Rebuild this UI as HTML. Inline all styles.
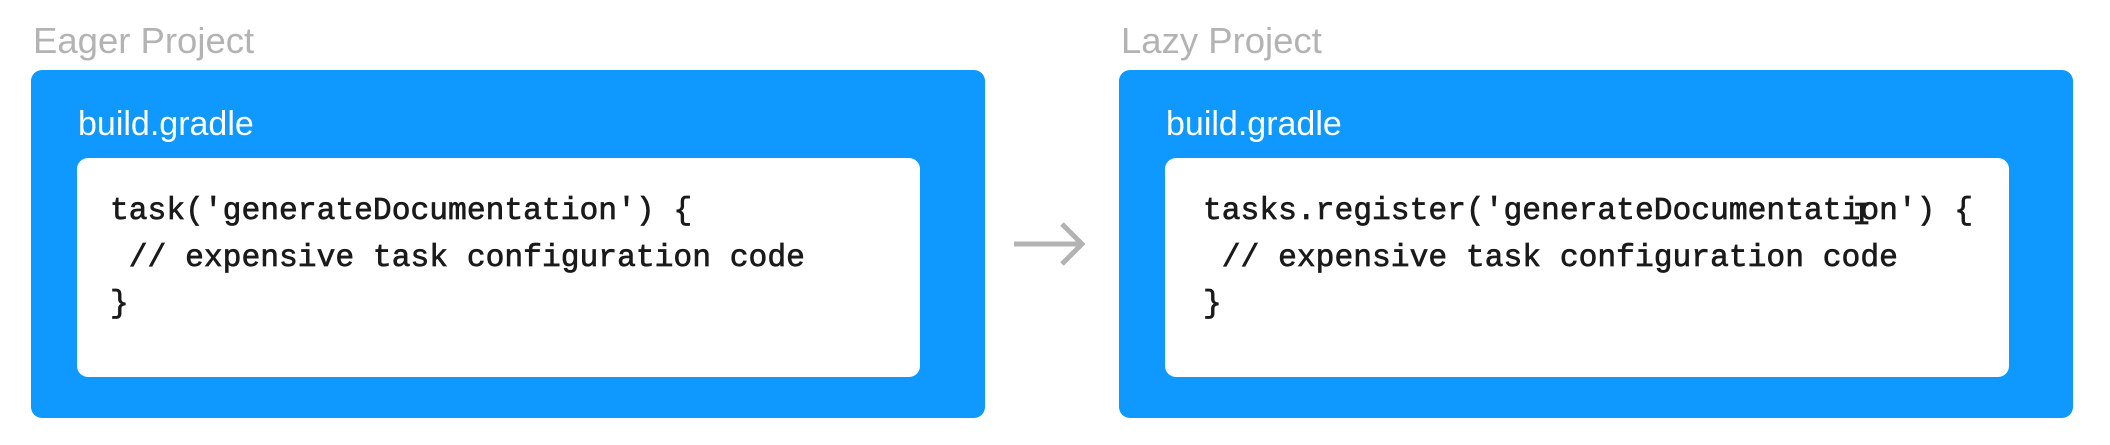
<!DOCTYPE html>
<html><head><meta charset="utf-8"><style>
body{margin:0;width:2110px;height:445px;background:#fff;position:relative;overflow:hidden;font-family:"Liberation Sans",sans-serif}
.lbl{position:absolute;top:20px;font-size:36.5px;color:#b3b3b3}
.box{position:absolute;top:70px;height:348px;background:#0f99ff;border-radius:11px}
.fn{position:absolute;top:105px;font-size:34px;color:#fff}
.code{position:absolute;top:158px;height:219px;background:#fff;border-radius:11px}
pre{position:absolute;margin:0;top:189px;font-family:"Liberation Mono",monospace;font-size:31.3px;line-height:46.5px;color:#1a1a1a;font-weight:normal;-webkit-text-stroke:0.7px #1a1a1a}
.o{position:relative}
.o i{position:absolute;left:-8px;top:0;font-style:normal;font-weight:normal}
</style></head><body>
<div class="lbl" style="left:33px">Eager Project</div>
<div class="box" style="left:31px;width:954px"></div>
<div class="fn" style="left:78px">build.gradle</div>
<div class="code" style="left:77px;width:843px"></div>
<pre style="left:110px">task('generateDocumentation') {
 // expensive task configuration code
}</pre>
<svg style="position:absolute;left:1010px;top:218px" width="80" height="52"><path d="M4 26H72M52 6L72 26L52 46" stroke="#b3b3b3" stroke-width="5" fill="none"/></svg>
<div class="lbl" style="left:1121px">Lazy Project</div>
<div class="box" style="left:1119px;width:954px"></div>
<div class="fn" style="left:1166px">build.gradle</div>
<div class="code" style="left:1165px;width:844px"></div>
<pre style="left:1203px">tasks.register('generateDocumentati<span class="o">o<i>I</i></span>n') {
 // expensive task configuration code
}</pre>
</body></html>
